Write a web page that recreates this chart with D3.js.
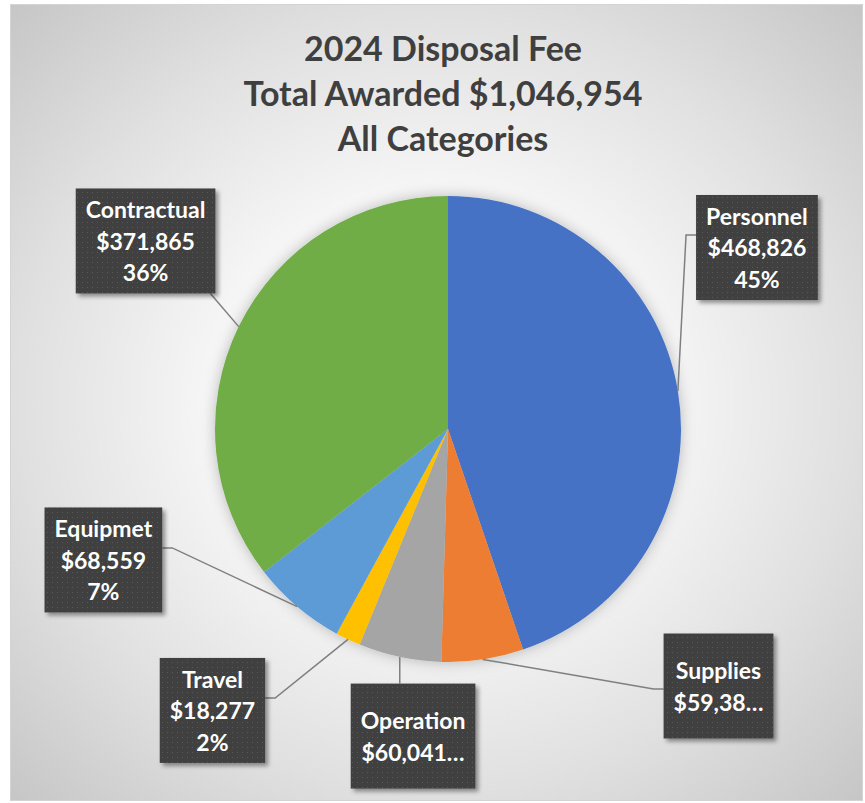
<!DOCTYPE html>
<html>
<head>
<meta charset="utf-8">
<script src="https://cdn.jsdelivr.net/npm/d3@7"></script>
<style>
  html, body { margin: 0; padding: 0; background: #ffffff; }
  svg { display: block; }
</style>
</head>
<body>
<svg id="chart" width="865" height="803"></svg>
<script>
// ---- data ----
const titleLines = ["2024 Disposal Fee", "Total Awarded $1,046,954", "All Categories"];
const categories = ["Personnel", "Supplies", "Operation", "Travel", "Equipmet", "Contractual"];
const values = [468826, 59386, 60041, 18277, 68559, 371865];
// labels that Excel truncated (max characters kept of the value line)
const truncateValueAt = [null, 6, 7, null, null, null];

// ---- styling / layout ----
const colors = ["#4472C4", "#ED7D31", "#A5A5A5", "#FFC000", "#5B9BD5", "#70AD47"];
// label box centres relative to pie centre, in units of radius
const labelOffset = [[1.326, -0.779], [1.161, 1.103], [-0.150, 1.318], [-1.011, 1.208], [-1.479, 0.562], [-1.298, -0.807]];
const leaderSide = ["left", "left", "top", "right", "right", "bottom"];
const leaderDy = [-12.5, 3, 0, -12.5, -12, 0];

const W = 865, H = 803;
const cx = 448, cy = 429, R = 233;
const svg = d3.select("#chart");
const defs = svg.append("defs");

const bg = defs.append("radialGradient").attr("id", "bg")
  .attr("cx", "50%").attr("cy", "50%").attr("r", "70.7%");
bg.append("stop").attr("offset", "0").attr("stop-color", "#ffffff");
bg.append("stop").attr("offset", "0.3").attr("stop-color", "#fbfbfb");
bg.append("stop").attr("offset", "0.69").attr("stop-color", "#e0e0e0");
bg.append("stop").attr("offset", "1").attr("stop-color", "#c6c6c6");

const pat = defs.append("pattern").attr("id", "dots").attr("patternUnits", "userSpaceOnUse")
  .attr("width", 5).attr("height", 5);
pat.append("rect").attr("width", 5).attr("height", 5).attr("fill", "#404040");
pat.append("rect").attr("x", 2).attr("y", 2).attr("width", 1).attr("height", 1).attr("fill", "#5a5a5a");

const sh = defs.append("filter").attr("id", "boxShadow").attr("x", "-20%").attr("y", "-20%").attr("width", "150%").attr("height", "150%");
sh.append("feDropShadow").attr("dx", 3).attr("dy", 3).attr("stdDeviation", 2)
  .attr("flood-color", "#000").attr("flood-opacity", 0.4);

const ps = defs.append("filter").attr("id", "pieShadow").attr("x", "-20%").attr("y", "-20%").attr("width", "140%").attr("height", "140%");
ps.append("feDropShadow").attr("dx", 0).attr("dy", 0).attr("stdDeviation", 7)
  .attr("flood-color", "#000").attr("flood-opacity", 0.25);

// chart area
svg.append("rect").attr("x", 10.5).attr("y", 4.5).attr("width", 852).attr("height", 796)
  .attr("fill", "url(#bg)").attr("stroke", "#d4d4d4").attr("stroke-width", 1);

// title
const title = svg.append("text").attr("text-anchor", "middle")
  .attr("font-family", "Lato, 'Open Sans', sans-serif").attr("font-weight", "bold")
  .attr("font-size", 34).attr("fill", "#3f3f3f");
titleLines.forEach((t, i) => {
  title.append("tspan").attr("x", 443).attr("y", 61 + i * 45).text(t);
});

// pie
const total = d3.sum(values);
const data = categories.map((c, i) => ({ name: c, value: values[i], i }));
const pie = d3.pie().value(d => d.value).sort(null).startAngle(0).endAngle(2 * Math.PI);
const arcs = pie(data);
const arc = d3.arc().innerRadius(0).outerRadius(R);

const g = svg.append("g").attr("transform", `translate(${cx},${cy})`);
g.append("g").attr("filter", "url(#pieShadow)")
  .selectAll("path").data(arcs).join("path")
  .attr("d", arc).attr("fill", d => colors[d.data.i]);

// labels
const fmtMoney = d3.format(",");
const fmtPct = d3.format(".0%");
const lineH = 31.5;
const boxH = 105;
const labelFont = "Lato, 'Open Sans', sans-serif";

const leaders = svg.append("g");
const labels = svg.append("g");

arcs.forEach(a => {
  const i = a.data.i;
  const mid = (a.startAngle + a.endAngle) / 2;
  const px = cx + R * Math.sin(mid), py = cy - R * Math.cos(mid);
  let lines;
  const money = "$" + fmtMoney(a.data.value);
  if (truncateValueAt[i] != null) {
    lines = [a.data.name, money.slice(0, truncateValueAt[i]) + "…"];
  } else {
    lines = [a.data.name, money, fmtPct(a.data.value / total)];
  }
  const bx = cx + labelOffset[i][0] * R, by = cy + labelOffset[i][1] * R;
  const lg = labels.append("g");
  const rect = lg.append("rect").attr("fill", "url(#dots)").attr("filter", "url(#boxShadow)");
  const txt = lg.append("text").attr("text-anchor", "middle")
    .attr("font-family", labelFont).attr("font-weight", "bold").attr("font-size", 23)
    .attr("fill", "#ffffff");
  lines.forEach((l, k) => {
    txt.append("tspan").attr("x", bx)
      .attr("y", by + (k - (lines.length - 1) / 2) * lineH)
      .attr("dominant-baseline", "central").text(l);
  });
  let maxW = 0;
  txt.selectAll("tspan").each(function () { maxW = Math.max(maxW, this.getComputedTextLength()); });
  const bw = maxW + 20;
  const x0 = bx - bw / 2, y0 = by - boxH / 2;
  rect.attr("x", x0).attr("y", y0).attr("width", bw).attr("height", boxH);

  // leader line
  let pts;
  const side = leaderSide[i];
  if (side === "left") {
    const ay = by + leaderDy[i];
    pts = [[px, py], [x0 - 10, ay], [x0, ay]];
  } else if (side === "right") {
    const ay = by + leaderDy[i];
    pts = [[px, py], [x0 + bw + 10, ay], [x0 + bw, ay]];
  } else if (side === "top") {
    const ax = Math.max(x0 + 5, Math.min(x0 + bw - 5, px));
    pts = [[px, py], [ax, y0]];
  } else {
    const ax = Math.max(x0 + 5, Math.min(x0 + bw - 5, px));
    pts = [[px, py], [ax, y0 + boxH]];
  }
  leaders.append("path").attr("d", d3.line()(pts))
    .attr("fill", "none").attr("stroke", "#7f7f7f").attr("stroke-width", 1.5);
});
</script>
</body>
</html>
